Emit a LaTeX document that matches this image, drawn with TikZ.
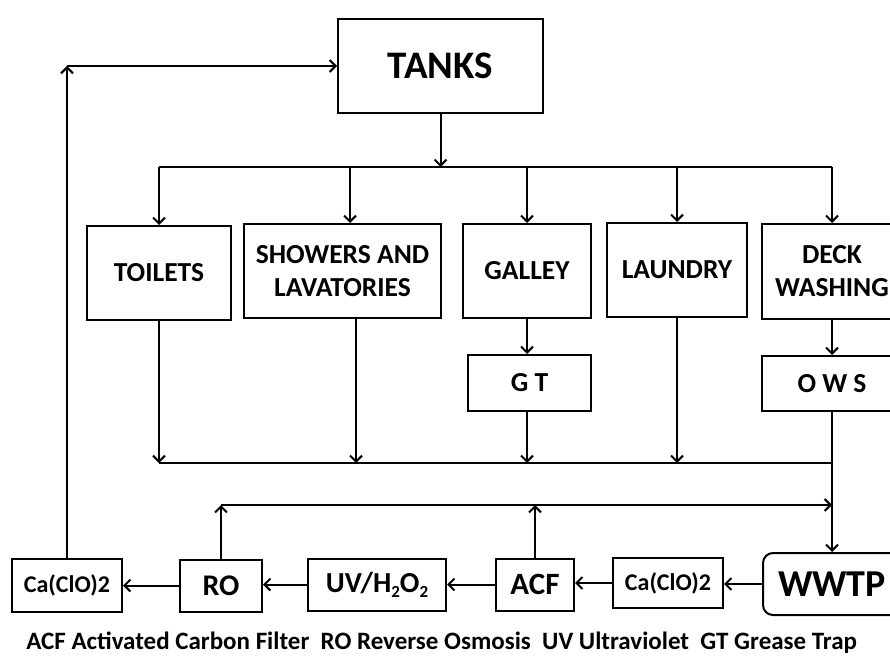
\documentclass[tikz,border=0pt]{standalone}
\usepackage{fontspec}
\setmainfont{Carlito}
\usetikzlibrary{arrows.meta}

\newcommand{\lowidx}[1]{\raisebox{-0.35ex}{\fontsize{17}{17}\selectfont #1}}

\tikzstyle{unit} = [
	draw = black,
	line width = 2pt,
	inner sep = 0pt,
	align = center,
	font = \bfseries\fontsize{27.5}{33}\selectfont
	]

\tikzstyle{chem} = [
	unit,
	minimum height = 52pt,
	font = \bfseries\fontsize{24}{26}\selectfont
	]

\begin{document}
\begin{tikzpicture}[
	x = 1pt,
	y = -1pt,
	line width = 2pt,
	>={Straight Barb[length=6pt,width=12pt]}
	]

			   \useasboundingbox (0,0) rectangle (890,655);

			   \node[unit, minimum width=205pt, minimum height=94pt, font=\bfseries\fontsize{39}{40}\selectfont] (tanks) at (440.5,66) {TANKS};

			   \node[unit, minimum width=144pt, minimum height=94pt] (toilets) at (159,273) {TOILETS};
			   \node[unit, minimum width=197pt, minimum height=94pt] (showers) at (342.5,271) {SHOWERS AND\\LAVATORIES};
			   \node[unit, minimum width=128pt, minimum height=94pt] (galley) at (527,271) {GALLEY};
			   \node[unit, minimum width=140pt, minimum height=94pt] (laundry) at (677,270) {LAUNDRY};
			   \node[unit, minimum width=140pt, minimum height=95pt] (deck) at (832,271.5) {DECK\\WASHING};

			   \node[unit, minimum width=123pt, minimum height=56pt] (gt) at (529.5,383) {G T};
			   \node[unit, minimum width=140pt, minimum height=55pt] (ows) at (832,383.5) {O W S};

			   \node[chem, minimum width=110pt, minimum height=53pt] (ca1) at (67,585.5) {Ca(ClO)2};
			   \node[chem, minimum width=82pt, font=\bfseries\fontsize{30}{30}\selectfont] (ro) at (221,585.5) {RO};
			   \node[chem, minimum width=138pt, font=\bfseries\fontsize{29}{30}\selectfont] (uv) at (377,584.5) {UV/H\lowidx{2}O\lowidx{2}};
			   \node[chem, minimum width=78pt, font=\bfseries\fontsize{31}{30}\selectfont] (acf) at (535,584.5) {ACF};
			   \node[chem, minimum width=110pt, minimum height=50pt] (ca2) at (668,583) {Ca(ClO)2};
			   \node[chem, minimum width=138pt, minimum height=62pt, rounded corners=10pt, font=\bfseries\fontsize{38}{36}\selectfont] (wwtp) at (832,584) {WWTP};

			   \node[anchor=base west, font=\bfseries\fontsize{25}{26}\selectfont] (legend) at (22,649) {ACF Activated Carbon Filter\ \ RO Reverse Osmosis\ \ UV Ultraviolet\ \ GT Grease Trap};

			   \coordinate (busL) at (159,167);
			   \coordinate (busR) at (832,167);
			   \coordinate (d2) at (350,167);
			   \coordinate (colL) at (159,463);
			   \coordinate (colR) at (832,463);
			   \coordinate (o2) at (356,463);
			   \coordinate (o3) at (527,463);
			   \coordinate (retL) at (221,505);
			   \coordinate (retR) at (832,505);
			   \coordinate (fb) at (ca1.north |- tanks.west);

			   \draw[->] (tanks.south) -- (tanks.south |- busL);
			   \draw (busL) -- (busR);
			   \draw[->] (busL) -- (toilets.north);
			   \draw[->] (d2) -- (d2 |- showers.north);
			   \draw[->] (galley.north |- busL) -- (galley.north);
			   \draw[->] (laundry.north |- busL) -- (laundry.north);
			   \draw[->] (busR) -- (deck.north);

			   \draw[->] (galley.south) -- (galley.south |- gt.north);
			   \draw[->] (deck.south) -- (ows.north);

			   \draw[->] (toilets.south) -- (colL);
			   \draw[->] (o2 |- showers.south) -- (o2);
			   \draw[->] (o3 |- gt.south) -- (o3);
			   \draw[->] (laundry.south) -- (laundry.south |- colL);
			   \draw (colL) -- (colR);
			   \draw[->] (ows.south) -- (wwtp.north);

			   \draw[->] (wwtp.west) -- (wwtp.west -| ca2.east);
			   \draw[->] (ca2.west) -- (ca2.west -| acf.east);
			   \draw[->] (acf.west) -- (acf.west -| uv.east);
			   \draw[->] (uv.west) -- (uv.west -| ro.east);
			   \draw[->] (ro.west) -- (ro.west -| ca1.east);

			   \draw[->] (ro.north) -- (retL);
			   \draw[->] (acf.north) -- (acf.north |- retL);
			   \draw[->] (retL) -- (retR);

			   \draw[->] (ca1.north) -- (fb);
			   \draw[->] (fb) -- (tanks.west);
		   \end{tikzpicture}
\end{document}
